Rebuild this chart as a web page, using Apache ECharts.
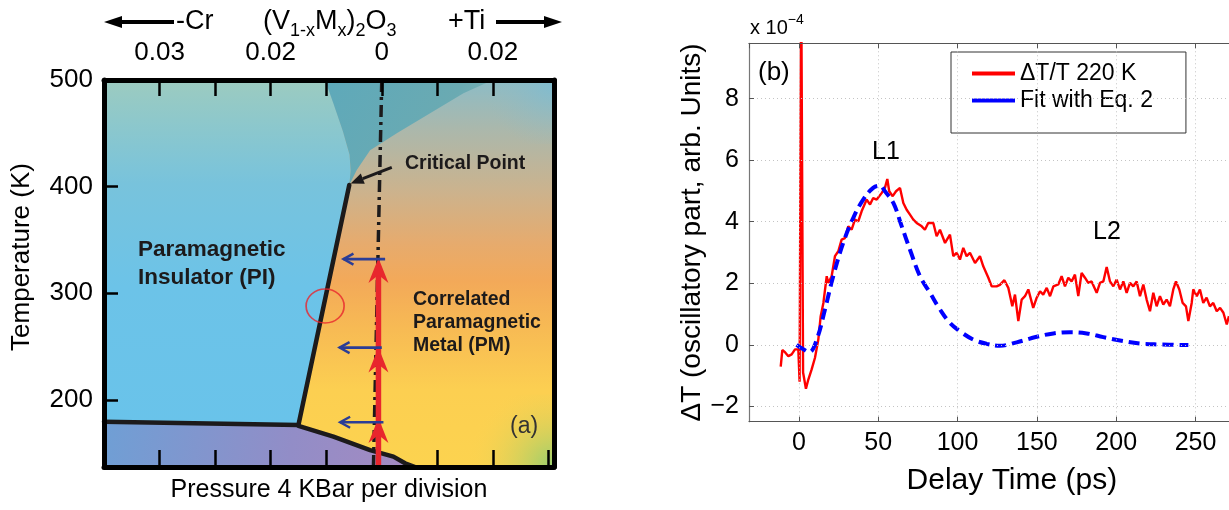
<!DOCTYPE html>
<html><head><meta charset="utf-8">
<script src="https://cdn.jsdelivr.net/npm/echarts@6/dist/echarts.min.js"></script>
<style>html,body{margin:0;padding:0;background:#fff}#c{width:1229px;height:510px}</style>
</head><body><div id="c"></div>
<script>
// ================= DATA =================
// ---- Panel (a): phase diagram (x = pressure divisions, y = temperature K) ----
const pressMin = -5, pressMax = 3.1;
const tempMin = 137, tempMax = 500;
const tempTickValues = [200, 300, 400, 500];
const tempTickMarks = [200, 300, 400];
const dopingTickPos = [-4, -2, 0, 2];
const dopingTickLabels = ['0.03', '0.02', '0', '0.02'];
const topTickMarks = [-4, -3, -2, -1, 0, 1, 2];
const bottomTickMarks = [-4, -3, -2, -1, 1, 2, 3];
// phase boundaries
const insulatorBoundary = [[-5, 179.5], [-1.5, 176.4], [-0.585, 401.5]];
const afiBoundary = [[-1.5, 175.5], [-0.87, 165.4], [-0.21, 152.9], [0.21, 146.7], [0.42, 140.5], [0.6, 137]];
const crossoverLeft = [[-1.02, 500], [-0.87, 478], [-0.7, 452], [-0.58, 430], [-0.56, 415], [-0.585, 401.5]];
const crossoverRight = [[-0.585, 401.5], [-0.45, 415.6], [-0.21, 434], [0.27, 450], [0.87, 468.8], [1.47, 487.5], [2.0, 500]];
const constantPressureLine = [[0, 500], [-0.15, 137]];
const criticalPoint = [-0.56, 403];
const criticalLabelFrom = [0.18, 418];
// heating path (red) and pressure shifts (blue)
const heatingX = -0.06;
const heatingTop = 333;
const heatingArrowTips = [333, 249, 183];
const shiftFromX = [0.06, 0.0, 0.03];
const shiftToX = [-0.69, -0.76, -0.75];
const shiftTemp = [332, 249, 179];
const circleCenter = [-1.02, 288];

// ---- Panel (b): oscillatory part of dT/T ----
const delayMin = -31.5, delayMax = 300;
const signalMin = -2.5, signalMax = 9.8;
const redName = '\u0394T/T 220 K';
const fitName = 'Fit with Eq. 2';
const redCurve = [
 [-11.5,-0.71],[-10.5,-0.17],[-8.8,-0.24],[-6.7,-0.37],[-4.6,-0.31],[-2.5,-0.15],[-0.4,-0.15],
 [0.4,-1.2],[1.4,12],[2.6,-0.9],[4.4,-1.43],[5.9,-1.13],[8,-0.8],[10.1,-0.42],[12.2,0.17],
 [13.7,0.93],[15.4,1.36],[17.5,2.23],[18.5,2.01],[20.6,2.23],[22.7,2.88],[24.8,3.04],[26.9,3.42],
 [29,3.47],[31.1,3.85],[33.2,3.74],[35.3,4.07],[37.4,4.01],[39.5,4.34],[42.7,4.72],[44.8,4.56],
 [46.8,4.77],[49,4.72],[52.1,4.93],[54.2,5.1],[55.7,5.39],[56.9,4.99],[59.1,4.83],[61.2,4.99],
 [63.7,5.1],[65.8,4.61],[67.9,4.39],[70,4.23],[72.1,4.07],[74.2,3.96],[77.4,3.85],[79.4,3.74],
 [81.5,3.96],[84.7,3.96],[86.8,3.53],[88.9,3.74],[92.1,3.31],[95.2,3.58],[97.3,2.88],[99.4,2.99],
 [101.5,2.77],[103.6,3.15],[105.7,2.88],[107.8,2.99],[111,2.66],[114.1,2.88],[116.2,2.55],
 [119.4,2.18],[121.5,1.9],[124.6,1.9],[126.7,1.95],[129.5,2.1],[132,1.85],[133.5,1.5],[134.5,1.25],
 [136.2,1.63],[138.3,0.77],[140.4,1.47],[142.5,1.58],[144.6,1.8],[147.7,1.2],[149.9,1.53],[152,1.74],
 [154,1.63],[156.2,1.85],[158.3,1.58],[160.4,1.9],[163.5,1.96],[165.6,2.23],[167.7,1.9],[169.8,2.18],
 [171.9,2.06],[174,2.28],[176.1,1.58],[178.2,2.34],[180.3,2.18],[182.4,2.01],[184.5,2.06],[187.7,1.69],
 [189.8,2.01],[191.9,2.06],[194,2.53],[196.1,2.06],[198.2,1.9],[200.3,2.12],[202.4,1.8],[204.5,2.06],
 [206.6,1.69],[208.7,2.01],[210.8,1.9],[212.9,2.06],[215,1.58],[217.1,1.96],[219.2,1.47],[221.3,1.09],
 [223.4,1.69],[225.5,1.25],[227.6,1.58],[229.7,1.31],[231.8,1.47],[233.9,1.25],[236,1.8],[237.7,2.06],
 [239.8,1.8],[241.9,1.36],[244,1.25],[245.5,0.77],[247.6,1.36],[248.6,1.8],[250.8,1.58],[252.8,1.8],
 [254.9,1.36],[257,1.53],[259.1,1.25],[261.2,1.36],[263.4,1.09],[265.5,1.2],[267.6,1.04],[269.7,0.66],
 [271.1,0.93]
];
const fitCurve = [
 [-1.5,0],[2,-0.12],[6.5,-0.24],[11.2,0.17],[16.4,1.15],[21.6,2.23],[27.9,3.31],[34.2,4.12],
 [40.5,4.72],[46.8,5.1],[51.1,5.17],[54.2,4.99],[59.5,4.61],[64.8,3.85],[70,3.09],[76.3,2.23],
 [82.6,1.69],[88.9,1.15],[95.2,0.71],[101.5,0.44],[109.9,0.17],[118.4,0.03],[126.7,-0.03],
 [137.3,0.08],[149.9,0.26],[160.4,0.37],[170.9,0.41],[181.4,0.37],[191.9,0.25],[202.4,0.14],
 [215,0.04],[227.6,0.01],[245.5,-0.01]
];

// ================= CHART =================
const FONT = '"Liberation Sans", Arial, Helvetica, sans-serif';
const chart = echarts.init(document.getElementById('c'), null, {renderer: 'canvas', width: 1229, height: 510});
const LG = (x, y, x2, y2, stops) => new echarts.graphic.LinearGradient(x, y, x2, y2, stops.map(s => ({offset: s[0], color: s[1]})));

function polySeries(pts, fill, z) {
  return {
    type: 'custom', coordinateSystem: 'cartesian2d', xAxisIndex: 0, yAxisIndex: 0, z: z, silent: true,
    data: [[pts[0][0], pts[0][1]]],
    renderItem: function (params, api) {
      return {type: 'polygon', shape: {points: pts.map(p => api.coord(p))}, style: {fill: fill}};
    }
  };
}

const plotRect = [[pressMin, tempMax], [pressMax, tempMax], [pressMax, tempMin], [pressMin, tempMin]];
const piPoly = [[pressMin, tempMax]].concat(crossoverLeft, [[-1.5, 176.4], [pressMin, 179.5]]);
const wedgePoly = crossoverLeft.concat(crossoverRight.slice(1));
const afiPoly = [[pressMin, 179.5], [-1.5, 176.4]].concat(afiBoundary.slice(1), [[pressMin, tempMin]]);
const greenCorner = [[1.3, tempMin], [pressMax, tempMin], [pressMax, 205], [1.3, 205]];
const topRightCorner = [[1.2, tempMax], [pressMax, tempMax], [pressMax, 440], [1.2, 440]];

const RED = '#e8262d', NAVY = '#2b3d96', INK = '#1c1a1b';

const option = {
  backgroundColor: '#ffffff',
  animation: false,
  textStyle: {fontFamily: FONT},
  grid: [
    {left: 104, top: 80, width: 450, height: 387, outerBoundsMode: 'none', containLabel: false},
    {left: 749, top: 43.3, width: 525.8, height: 378.4, show: false, outerBoundsMode: 'none', containLabel: false}
  ],
  legend: {
    data: [{name: redName}, {name: fitName}],
    left: 951, top: 52, orient: 'vertical', selectedMode: false,
    backgroundColor: '#ffffff', borderColor: '#333', borderWidth: 1,
    padding: [10, 33, 21, 21], itemWidth: 43, itemHeight: 4, itemGap: 4, icon: 'rect',
    textStyle: {fontSize: 23, fontFamily: FONT, color: '#000'}
  },
  xAxis: [
    { // panel a bottom
      gridIndex: 0, type: 'value', min: pressMin, max: pressMax, position: 'bottom', z: 10,
      axisLine: {show: true, onZero: false, lineStyle: {color: '#000', width: 5}},
      axisTick: {show: true, inside: true, length: 17, lineStyle: {color: '#000', width: 2.5}, customValues: bottomTickMarks},
      axisLabel: {show: false}, splitLine: {show: false},
      name: 'Pressure 4 KBar per division', nameLocation: 'middle', nameGap: 11,
      nameTextStyle: {fontSize: 25, color: '#000', fontFamily: FONT}
    },
    { // panel a top (doping)
      gridIndex: 0, type: 'value', min: pressMin, max: pressMax, position: 'top', z: 10,
      axisLine: {show: true, onZero: false, lineStyle: {color: '#000', width: 5}},
      axisTick: {show: true, inside: true, length: 16, lineStyle: {color: '#000', width: 2.5}, customValues: topTickMarks},
      axisLabel: {show: true, customValues: dopingTickPos, margin: 14, fontSize: 26, color: '#000', fontFamily: FONT,
        formatter: v => { const i = dopingTickPos.indexOf(Math.round(v)); return i >= 0 ? dopingTickLabels[i] : ''; }},
      splitLine: {show: false}
    },
    { // panel b bottom
      gridIndex: 1, type: 'value', min: delayMin, max: delayMax, position: 'bottom', z: 5,
      axisLine: {show: true, onZero: false, lineStyle: {color: '#555', width: 1.2}},
      axisTick: {show: true, inside: true, length: 5, lineStyle: {color: '#555'}},
      axisLabel: {showMinLabel: false, fontSize: 25, color: '#000', margin: 9, fontFamily: FONT},
      splitLine: {show: true, lineStyle: {color: '#c4c4c4', type: [1, 3], width: 1}},
      name: 'Delay Time (ps)', nameLocation: 'middle', nameGap: 44,
      nameTextStyle: {fontSize: 30, color: '#000', fontFamily: FONT}
    },
    { // panel b top box
      gridIndex: 1, type: 'value', min: delayMin, max: delayMax, position: 'top', z: 5,
      axisLine: {show: true, onZero: false, lineStyle: {color: '#555', width: 1.2}},
      axisTick: {show: true, inside: true, length: 5, lineStyle: {color: '#555'}},
      axisLabel: {show: false}, splitLine: {show: false}
    }
  ],
  yAxis: [
    { // panel a temperature
      gridIndex: 0, type: 'value', min: tempMin, max: tempMax, position: 'left', z: 10,
      axisLine: {show: true, onZero: false, lineStyle: {color: '#000', width: 5}},
      axisTick: {show: true, inside: true, length: 14, lineStyle: {color: '#000', width: 2.5}, customValues: tempTickMarks},
      axisLabel: {show: true, customValues: tempTickValues, margin: 11, fontSize: 26, color: '#000', fontFamily: FONT},
      splitLine: {show: false}
    },
    { // panel a right border
      gridIndex: 0, type: 'value', min: tempMin, max: tempMax, position: 'right', z: 10,
      axisLine: {show: true, onZero: false, lineStyle: {color: '#000', width: 5}},
      axisTick: {show: false}, axisLabel: {show: false}, splitLine: {show: false}
    },
    { // panel b signal
      gridIndex: 1, type: 'value', min: signalMin, max: signalMax, position: 'left', z: 5,
      axisLine: {show: true, onZero: false, lineStyle: {color: '#777', width: 1.2}},
      axisTick: {show: true, inside: true, length: 5, lineStyle: {color: '#555'}},
      axisLabel: {showMinLabel: false, showMaxLabel: false, fontSize: 25, color: '#000', margin: 10, fontFamily: FONT,
        formatter: v => (v < 0 ? '\u2212' + (-v) : String(v))},
      splitLine: {show: true, lineStyle: {color: '#c4c4c4', type: [1, 3], width: 1}},
      name: '\u0394T (oscillatory part, arb. Units)', nameLocation: 'middle', nameGap: 36,
      nameTextStyle: {fontSize: 28, color: '#000', fontFamily: FONT}
    }
  ],
  series: [
    // ---- panel a colour regions ----
    polySeries(plotRect, LG(0, 0, 0, 1, [[0, '#8cbcc6'], [0.12, '#a9b8ad'], [0.28, '#cab38f'], [0.42, '#e6ab6e'], [0.52, '#f3a959'], [0.64, '#f7ba54'], [0.8, '#fccf51'], [1, '#fcd34f']]), 1),
    polySeries(topRightCorner, new echarts.graphic.RadialGradient(1, 0, 1.1, [{offset: 0, color: 'rgba(125,188,210,0.9)'}, {offset: 1, color: 'rgba(150,186,190,0)'}]), 1.5),
    polySeries(greenCorner, new echarts.graphic.RadialGradient(1, 1, 1.2, [{offset: 0, color: 'rgba(150,206,110,1)'}, {offset: 1, color: 'rgba(252,211,80,0)'}]), 1.5),
    polySeries(piPoly, LG(0, 0, 0, 1, [[0, '#9ccbc0'], [0.3, '#78c3dc'], [0.6, '#6cc3e8'], [1, '#69c3ea']]), 2),
    polySeries(wedgePoly, LG(0, 0, 1, 1, [[0, '#5ea9ba'], [0.6, '#6aaab2'], [1, '#8ab7b8']]), 2),
    polySeries(afiPoly, LG(0, 0, 1, 1, [[0, '#6f9fd5'], [0.6, '#928dc7'], [1, '#a58ac1']]), 2),
    // ---- panel a lines ----
    {type: 'line', xAxisIndex: 0, yAxisIndex: 0, data: insulatorBoundary, symbol: 'none', silent: true, z: 5,
     lineStyle: {color: INK, width: 4.5, cap: 'round', join: 'round'}},
    {type: 'line', xAxisIndex: 0, yAxisIndex: 0, data: afiBoundary, symbol: 'none', silent: true, z: 5,
     lineStyle: {color: INK, width: 4.5, cap: 'round'}},
    {type: 'line', xAxisIndex: 0, yAxisIndex: 0, data: constantPressureLine, symbol: 'none', silent: true, z: 6,
     lineStyle: {color: INK, width: 3.5, type: [12, 5, 3, 5]}},
    {type: 'line', xAxisIndex: 0, yAxisIndex: 0, data: [[heatingX, tempMin], [heatingX, heatingTop - 8]], symbol: 'none', silent: true, z: 7,
     lineStyle: {color: RED, width: 5.5}},
    { // red arrowheads
      type: 'custom', coordinateSystem: 'cartesian2d', xAxisIndex: 0, yAxisIndex: 0, z: 8, silent: true,
      data: heatingArrowTips.map(t => [heatingX, t]),
      renderItem: function (params, api) {
        const p = api.coord([api.value(0), api.value(1)]);
        return {type: 'polygon', shape: {points: [[p[0], p[1]], [p[0] - 10, p[1] + 25], [p[0], p[1] + 17], [p[0] + 10, p[1] + 25]]}, style: {fill: RED}};
      }
    },
    { // blue pressure-shift arrows
      type: 'custom', coordinateSystem: 'cartesian2d', xAxisIndex: 0, yAxisIndex: 0, z: 9, silent: true,
      data: shiftFromX.map((fx, i) => [fx, shiftTemp[i], shiftToX[i]]),
      renderItem: function (params, api) {
        const a = api.coord([api.value(0), api.value(1)]);
        const b = api.coord([api.value(2), api.value(1)]);
        return {type: 'group', children: [
          {type: 'line', shape: {x1: a[0], y1: a[1], x2: b[0], y2: b[1]}, style: {stroke: NAVY, lineWidth: 2.6}},
          {type: 'polyline', shape: {points: [[b[0] + 10, b[1] - 5.5], [b[0], b[1]], [b[0] + 10, b[1] + 5.5]]}, style: {stroke: NAVY, lineWidth: 2.4, fill: null}}
        ]};
      }
    },
    { // arrow to the critical point
      type: 'custom', coordinateSystem: 'cartesian2d', xAxisIndex: 0, yAxisIndex: 0, z: 9, silent: true,
      data: [[criticalLabelFrom[0], criticalLabelFrom[1], criticalPoint[0], criticalPoint[1]]],
      renderItem: function (params, api) {
        const a = api.coord([api.value(0), api.value(1)]);
        const b = api.coord([api.value(2), api.value(3)]);
        const ang = Math.atan2(b[1] - a[1], b[0] - a[0]);
        const L = 13, W = 5.5;
        const bx = b[0] - L * Math.cos(ang), by = b[1] - L * Math.sin(ang);
        const nx = -Math.sin(ang) * W, ny = Math.cos(ang) * W;
        return {type: 'group', children: [
          {type: 'line', shape: {x1: a[0], y1: a[1], x2: bx, y2: by}, style: {stroke: INK, lineWidth: 3}},
          {type: 'polygon', shape: {points: [[b[0], b[1]], [bx + nx, by + ny], [bx - nx, by - ny]]}, style: {fill: INK}}
        ]};
      }
    },
    {type: 'scatter', xAxisIndex: 0, yAxisIndex: 0, data: [circleCenter], symbol: 'circle', symbolSize: [38, 34], silent: true, z: 9,
     itemStyle: {color: 'rgba(0,0,0,0)', borderColor: '#e8262d', borderWidth: 1.6}},
    // ---- panel b curves ----
    {type: 'line', name: redName, xAxisIndex: 2, yAxisIndex: 2, data: redCurve, symbol: 'none', showSymbol: false, z: 3,
     color: '#ff0000', lineStyle: {color: '#ff0000', width: 2.4}},
    {type: 'line', name: fitName, xAxisIndex: 2, yAxisIndex: 2, data: fitCurve, symbol: 'none', showSymbol: false, smooth: 0.4, z: 4,
     color: '#0000ff', lineStyle: {color: '#0000ff', width: 4, type: [11, 6]}}
  ],
  graphic: [
    // title row of panel a
    {type: 'line', shape: {x1: 118, y1: 22, x2: 174, y2: 22}, style: {stroke: '#000', lineWidth: 4}},
    {type: 'polygon', shape: {points: [[104, 22], [122, 16], [122, 28]]}, style: {fill: '#000'}},
    {type: 'line', shape: {x1: 496, y1: 22, x2: 548, y2: 22}, style: {stroke: '#000', lineWidth: 4}},
    {type: 'polygon', shape: {points: [[562, 22], [544, 16], [544, 28]]}, style: {fill: '#000'}},
    {type: 'text', x: 176, y: 22, style: {text: '-Cr', fontSize: 27, fontFamily: FONT, fill: '#000', verticalAlign: 'middle'}},
    {type: 'text', x: 263, y: 22, style: {text: '(V{s|1-x}M{s|x}){s|2}O{s|3}', fontSize: 27, lineHeight: 36, fontFamily: FONT, fill: '#000', verticalAlign: 'middle',
      rich: {s: {fontSize: 18, lineHeight: 18, verticalAlign: 'bottom', fontFamily: FONT, fill: '#000'}}}},
    {type: 'text', x: 448, y: 22, style: {text: '+Ti', fontSize: 27, fontFamily: FONT, fill: '#000', verticalAlign: 'middle'}},
    // panel a texts
    {type: 'text', x: 22, y: 257, rotation: Math.PI / 2, style: {text: 'Temperature (K)', fontSize: 26, fontFamily: FONT, fill: '#000', align: 'center', verticalAlign: 'middle'}},
    {type: 'text', x: 138, y: 264, z: 20, style: {text: 'Paramagnetic\nInsulator (PI)', fontSize: 22.5, fontWeight: 'bold', lineHeight: 28, fontFamily: FONT, fill: INK, verticalAlign: 'middle'}},
    {type: 'text', x: 405, y: 164, z: 20, style: {text: 'Critical Point', fontSize: 19.5, fontWeight: 'bold', fontFamily: FONT, fill: INK, verticalAlign: 'middle'}},
    {type: 'text', x: 413, y: 322.7, z: 20, style: {text: 'Correlated\nParamagnetic\nMetal (PM)', fontSize: 19.5, fontWeight: 'bold', lineHeight: 23.3, fontFamily: FONT, fill: INK, verticalAlign: 'middle'}},
    {type: 'text', x: 510, y: 427, z: 20, style: {text: '(a)', fontSize: 23, fontFamily: FONT, fill: '#333', verticalAlign: 'middle'}},
    // panel b texts
    {type: 'text', x: 750, y: 28, style: {text: 'x 10{sup|\u22124}', fontSize: 20, lineHeight: 30, fontFamily: FONT, fill: '#000', verticalAlign: 'middle',
      rich: {sup: {fontSize: 14, lineHeight: 14, verticalAlign: 'top', fontFamily: FONT, fill: '#000'}}}},
    {type: 'text', x: 758, y: 73, z: 20, style: {text: '(b)', fontSize: 26, fontFamily: FONT, fill: '#000', verticalAlign: 'middle'}},
    {type: 'text', x: 886, y: 152, z: 20, style: {text: 'L1', fontSize: 25, fontFamily: FONT, fill: '#000', align: 'center', verticalAlign: 'middle'}},
    {type: 'text', x: 1107, y: 232, z: 20, style: {text: 'L2', fontSize: 25, fontFamily: FONT, fill: '#000', align: 'center', verticalAlign: 'middle'}}
  ]
};
chart.setOption(option);
</script>
</body></html>
